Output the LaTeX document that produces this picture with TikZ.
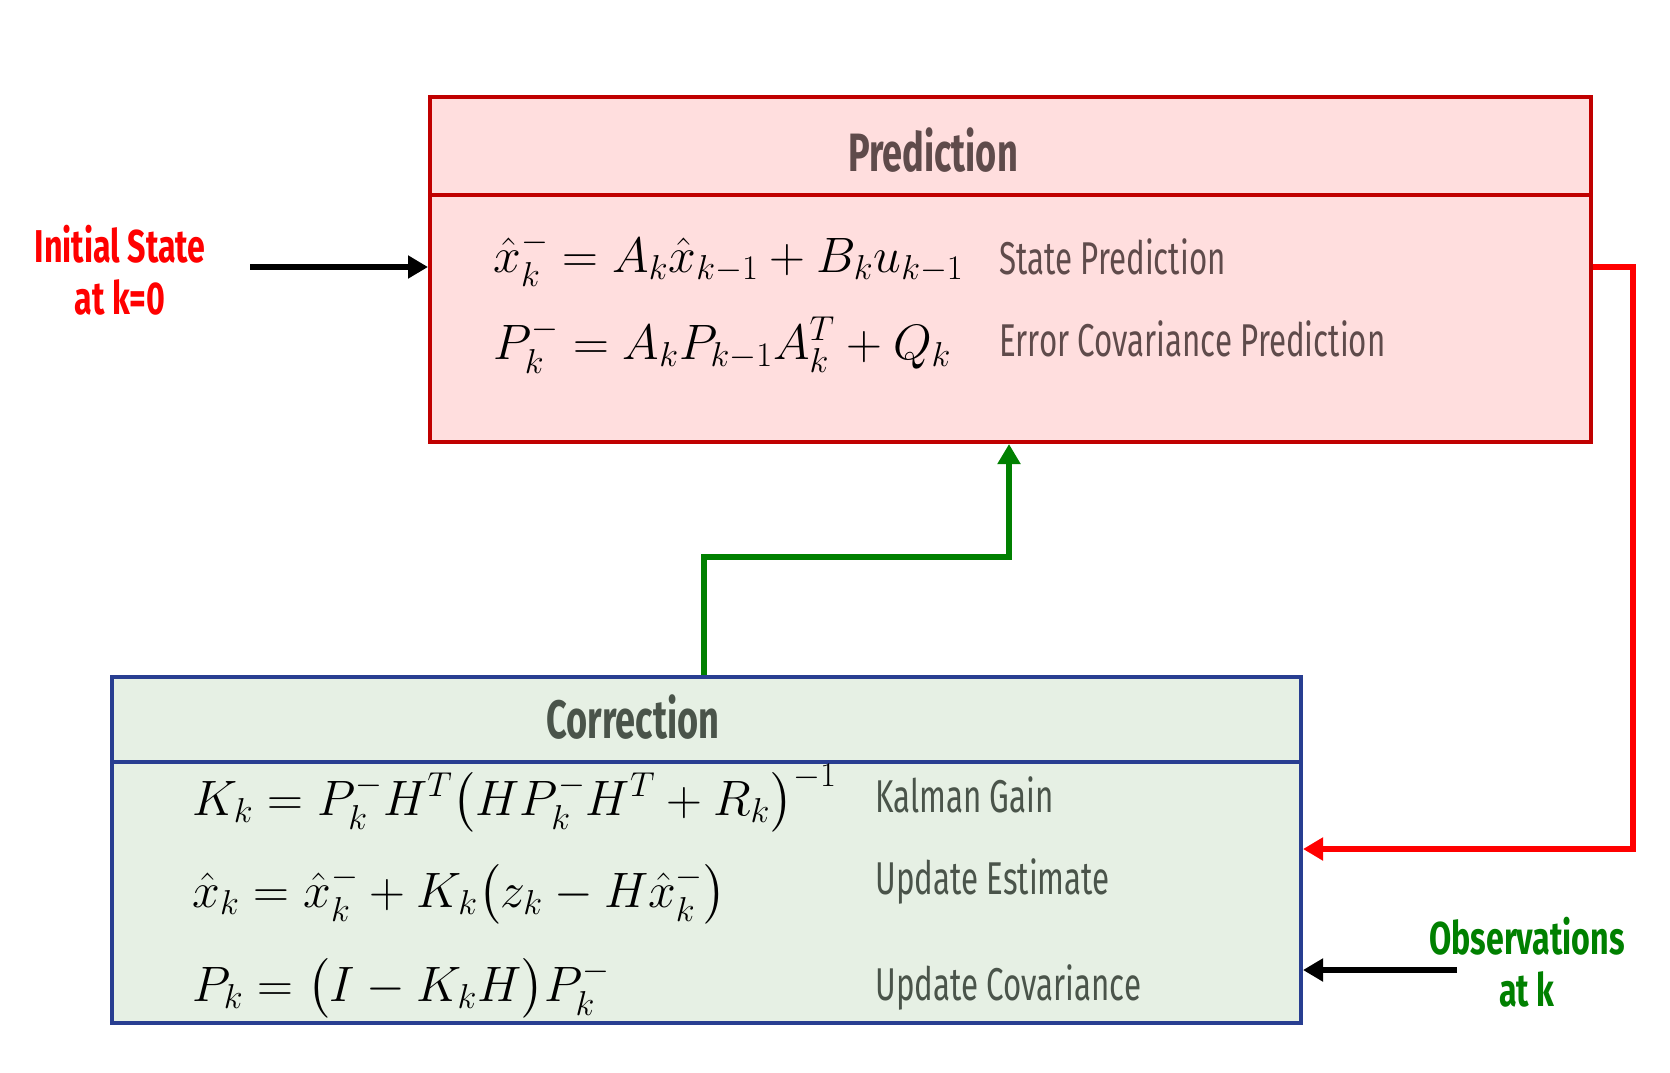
\documentclass[tikz,border=0pt]{standalone}
\usepackage{fontspec}
\usepackage{amsmath}
\usetikzlibrary{arrows.meta,positioning}
\newfontfamily\titlefont[FakeStretch=0.67]{Fira Sans}
\newfontfamily\sidefont[FakeStretch=0.70]{Fira Sans}
\newfontfamily\lblfont[FakeStretch=0.68]{Fira Sans}
\definecolor{predfill}{RGB}{255,222,222}
\definecolor{predline}{RGB}{192,0,0}
\definecolor{predtext}{RGB}{95,75,75}
\definecolor{corrfill}{RGB}{230,240,228}
\definecolor{corrline}{RGB}{40,62,145}
\definecolor{corrtext}{RGB}{74,84,74}
\definecolor{obsgreen}{RGB}{0,128,0}
\tikzset{
  predbox/.style={draw=predline, fill=predfill, line width=2pt, anchor=north west, inner sep=0pt},
  corrbox/.style={draw=corrline, fill=corrfill, line width=2pt, anchor=north west, inner sep=0pt},
  boxtitle/.style={font=\titlefont\bfseries\fontsize{27}{32}\selectfont},
  eqn/.style={anchor=base west, inner sep=0pt, font=\fontsize{26}{30}\selectfont},
  eqlabel/.style={anchor=base west, inner sep=0pt, font=\lblfont\fontsize{23}{27}\selectfont},
  sidelabel/.style={align=center, font=\sidefont\bfseries\fontsize{23}{26}\selectfont},
  flow/.style={line width=2.6pt, -{Triangle[length=10pt,width=11pt]}},
}
\begin{document}
\begin{tikzpicture}[x=0.5pt,y=-0.5pt]
\useasboundingbox (0,0) rectangle (1670,1072);

% prediction block
\node[predbox, minimum width=580.5pt, minimum height=49pt] (predhead) at (428,95) {};
\node[predbox, minimum width=580.5pt, minimum height=123.5pt] (predbody) at (428,193) {};
\node[boxtitle, text=predtext] (predtitle) at (933,150) {Prediction};
\node[eqn] (predx) at (493,272) {$\hat{x}_k^{-} = A_k\hat{x}_{k-1} + B_k u_{k-1}$};
\node[eqn] (predp) at (493,359) {$P_k^{-} = A_k P_{k-1} A_k^{T} + Q_k$};
\node[eqlabel, text=predtext] (predxlbl) at (999,274) {State Prediction};
\node[eqlabel, text=predtext] (predplbl) at (999,356) {Error Covariance Prediction};

% correction block
\node[corrbox, minimum width=594.5pt, minimum height=42.5pt] (corrhead) at (110,675) {};
\node[corrbox, minimum width=594.5pt, minimum height=130.5pt] (corrbody) at (110,760) {};
\node[boxtitle, text=corrtext] (corrtitle) at (633,717) {Correction};
\node[eqn] (corrk) at (192,815) {$K_k = P_k^{-} H^{T} \bigl(H P_k^{-} H^{T} + R_k\bigr)^{-1}$};
\node[eqn] (corrx) at (192,907) {$\hat{x}_k = \hat{x}_k^{-} + K_k\bigl(z_k - H\hat{x}_k^{-}\bigr)$};
\node[eqn] (corrp) at (192,1001) {$P_k = \bigl(I - K_k H\bigr) P_k^{-}$};
\node[eqlabel, text=corrtext] (corrklbl) at (875,812) {Kalman Gain};
\node[eqlabel, text=corrtext] (corrxlbl) at (875,894) {Update Estimate};
\node[eqlabel, text=corrtext] (corrplbl) at (875,1000) {Update Covariance};

% inputs
\node[sidelabel, text=red] (initlbl) at (120,270) {Initial State\\at k=0};
\node[sidelabel, text=obsgreen] (obslbl) at (1527,962) {Observations\\at k};
\coordinate (initstart) at (250,267);
\coordinate (obsstart) at (1457,970);
\coordinate (fbturn) at (1633,849);
\coordinate (upturn) at (704,557);
\coordinate (upturn2) at (1009,557);

% connectors
\draw[flow] (initstart) -- (initstart -| predbody.west);
\draw[flow] (obsstart) -- (obsstart -| corrbody.east);
\draw[flow, red, line width=3pt] (predbody.east |- initstart) -| (fbturn) -- (fbturn -| corrbody.east);
\draw[flow, obsgreen, line width=3pt] (upturn |- corrhead.north) -- (upturn) -- (upturn2) -- (upturn2 |- predbody.south);
\end{tikzpicture}
\end{document}
